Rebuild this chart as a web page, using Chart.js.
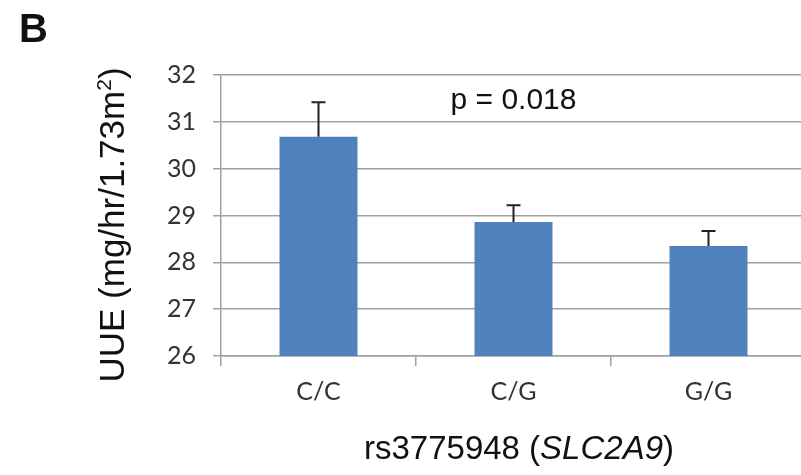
<!DOCTYPE html>
<html>
<head>
<meta charset="utf-8">
<script src="https://cdn.jsdelivr.net/npm/chart.js@4.4.1/dist/chart.umd.min.js"></script>
<style>
  html, body { margin: 0; padding: 0; background: #fff; overflow: hidden; width: 801px; height: 475px; }
  #wrap { position: relative; width: 812px; height: 475px; }
  canvas { position: absolute; left: 0; top: 0; }
  .lbl { position: absolute; line-height: 1; white-space: nowrap; color: #111; font-family: "Liberation Sans", Arial, sans-serif; }
</style>
</head>
<body>
<div id="wrap">
  <canvas id="c" width="812" height="475"></canvas>
  <div class="lbl" style="left:19px; top:8px; font-size:40px; font-weight:bold;">B</div>
  <div class="lbl" style="left:519px; top:431px; font-size:33px; transform:translateX(-50%);">rs3775948 (<i>SLC2A9</i>)</div>
</div>
<script>
const categories = ["C/C", "C/G", "G/G"];
const means = [30.68, 28.86, 28.35];
const sem = [0.74, 0.36, 0.32];
const yTicks = [26, 27, 28, 29, 30, 31, 32];
const pLabel = "p = 0.018";
const pLabelY = 31.45;
const yTitleMain = "UUE (mg/hr/1.73m";
const yTitleSup = "2";
const yTitleEnd = ")";

const extras = {
  id: 'extras',
  afterDatasetsDraw(chart) {
    const ctx = chart.ctx;
    const meta = chart.getDatasetMeta(0);
    const ys = chart.scales.y;
    ctx.save();
    ctx.strokeStyle = '#222';
    ctx.lineWidth = 2;
    meta.data.forEach((bar, i) => {
      const x = bar.x;
      const y0 = ys.getPixelForValue(means[i]);
      const y1 = ys.getPixelForValue(means[i] + sem[i]);
      ctx.beginPath();
      ctx.moveTo(x, y0);
      ctx.lineTo(x, y1);
      ctx.moveTo(x - 7, y1);
      ctx.lineTo(x + 7, y1);
      ctx.stroke();
    });
    // p-value label
    ctx.fillStyle = '#111';
    ctx.font = '30px "Liberation Sans", Arial, sans-serif';
    ctx.textAlign = 'center';
    ctx.textBaseline = 'middle';
    ctx.fillText(pLabel, chart.scales.x.getPixelForValue(1), ys.getPixelForValue(pLabelY));
    ctx.restore();

    // rotated y-axis title with superscript
    ctx.save();
    const fMain = '35px "Liberation Sans", Arial, sans-serif';
    const fSup = '21px "Liberation Sans", Arial, sans-serif';
    ctx.font = fMain;
    const w1 = ctx.measureText(yTitleMain).width;
    const w3 = ctx.measureText(yTitleEnd).width;
    ctx.font = fSup;
    const w2 = ctx.measureText(yTitleSup).width;
    const total = w1 + w2 + w3;
    const cx = 124, cy = 225;
    ctx.translate(cx, cy);
    ctx.rotate(-Math.PI / 2);
    ctx.fillStyle = '#111';
    ctx.textAlign = 'left';
    ctx.textBaseline = 'alphabetic';
    let x = -total / 2;
    ctx.font = fMain;
    ctx.fillText(yTitleMain, x, 0);
    x += w1;
    ctx.font = fSup;
    ctx.fillText(yTitleSup, x, -13);
    x += w2;
    ctx.font = fMain;
    ctx.fillText(yTitleEnd, x, 0);
    ctx.restore();
  }
};

new Chart(document.getElementById('c'), {
  type: 'bar',
  data: {
    labels: categories,
    datasets: [{
      data: means,
      backgroundColor: '#4f81bd',
      borderWidth: 0,
      barPercentage: 0.4,
      categoryPercentage: 1.0
    }]
  },
  options: {
    responsive: false,
    devicePixelRatio: 1,
    animation: false,
    layout: { padding: { left: 0, top: 75, right: 6, bottom: 0 } },
    plugins: { legend: { display: false }, tooltip: { enabled: false } },
    scales: {
      x: {
        offset: true,
        grid: { offset: true, drawOnChartArea: false, drawTicks: true, tickLength: 10, color: '#a0a0a0', lineWidth: 1.5 },
        border: { display: true, color: '#a0a0a0', width: 1.5 },
        ticks: { color: '#333', font: { family: 'Lato, "Open Sans", sans-serif', size: 25 }, padding: 11 },
        afterFit(scale) { scale.height = 119; }
      },
      y: {
        min: 26, max: 32,
        afterBuildTicks(scale) { scale.ticks = yTicks.map(v => ({ value: v })); },
        grid: { color: '#a0a0a0', lineWidth: 1.5, tickLength: 8, drawTicks: true },
        border: { display: true, color: '#a0a0a0', width: 1.5 },
        ticks: { color: '#333', font: { family: 'Lato, "Open Sans", sans-serif', size: 25 }, padding: 17 },
        afterFit(scale) { scale.width = 221; }
      }
    }
  },
  plugins: [extras]
});
</script>
</body>
</html>
